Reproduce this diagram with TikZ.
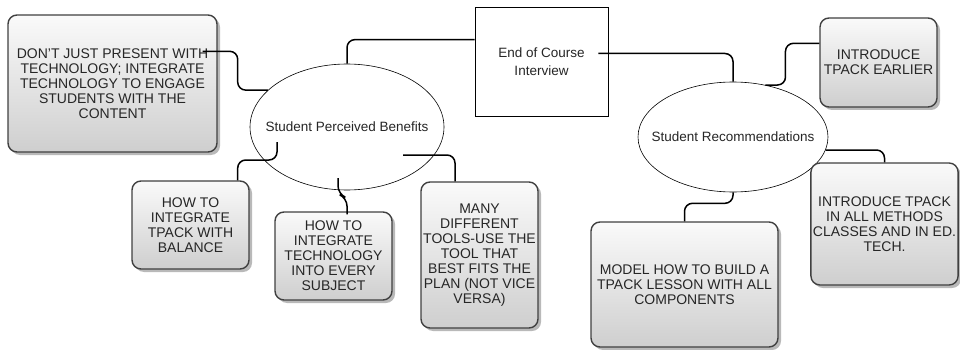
\documentclass[tikz,border=0pt]{standalone}
\usepackage{fontspec}
\setmainfont{Liberation Sans}
\usetikzlibrary{calc, shadows, shapes.geometric}
\tikzset{
  idea/.style={draw=black!75, line width=1.4pt, rounded corners=9pt,
    top color=gray!4, bottom color=gray!38,
    drop shadow={shadow xshift=3pt, shadow yshift=-3pt, fill=black!50, opacity=0.55},
    align=center, text=black!85, inner sep=2pt, font=\fontsize{14}{15}\selectfont},
  theme/.style={draw, ellipse, fill=white, line width=0.6pt, inner sep=0pt,
    label={[font=\fontsize{13.5}{15}\selectfont, text=black!85]center:#1}},
  source/.style={draw, rectangle, fill=white, line width=0.8pt, align=center,
    text=black!85, font=\fontsize{13.5}{18}\selectfont},
  link/.style={line width=1.5pt, rounded corners=8pt}
}

\begin{document}
\begin{tikzpicture}[x=1pt, y=-1pt]
\useasboundingbox (0,0) rectangle (960,350);
\node[source, minimum width=133pt, minimum height=109pt] (interview) at (541.5,61.5) {End of Course\\Interview};
\node[theme={Student Perceived Benefits}, minimum width=194pt, minimum height=126pt] (benefits) at (347,127) {};
\node[theme={Student Recommendations}, minimum width=190pt, minimum height=110pt] (recs) at (733,137) {};
\node[idea, minimum width=209pt, minimum height=137pt] (dont) at (112.5,83.5) {DON'T JUST PRESENT WITH\\TECHNOLOGY; INTEGRATE\\TECHNOLOGY TO ENGAGE\\STUDENTS WITH THE\\CONTENT};
\node[idea, minimum width=117pt, minimum height=88pt] (balance) at (190.5,225) {HOW TO\\INTEGRATE\\TPACK WITH\\BALANCE};
\node[idea, minimum width=117pt, minimum height=88pt] (subject) at (333.5,256) {HOW TO\\INTEGRATE\\TECHNOLOGY\\INTO EVERY\\SUBJECT};
\node[idea, minimum width=117pt, minimum height=146pt] (many) at (479.5,255) {MANY\\DIFFERENT\\TOOLS-USE THE\\TOOL THAT\\BEST FITS THE\\PLAN (NOT VICE\\VERSA)};
\node[idea, minimum width=187pt, minimum height=125pt] (model) at (684.5,284.5) {MODEL HOW TO BUILD A\\TPACK LESSON WITH ALL\\COMPONENTS};
\node[idea, minimum width=117pt, minimum height=89pt] (early) at (878.5,62.5) {INTRODUCE\\TPACK EARLIER};
\node[idea, minimum width=145pt, minimum height=122pt] (methods) at (884.5,224) {INTRODUCE TPACK\\IN ALL METHODS\\CLASSES AND IN ED.\\TECH.};
\draw[link] ($(interview.north west)+(0,33)$) -| (benefits.north);
\draw[link] ($(interview.east)+(-10,-8)$) -| (recs.north);
\draw[link] (recs.58) -- ++(20,0) |- ($(early.north west)+(0,26)$);
\draw[link] (recs.-8) -| (methods.north);
\draw[link] (recs.south) -- ++(0,11) -| (model.north);
\draw[link] ($(dont.north east)+(-15,37)$) -- ++(35,0) |- (benefits.155);
\draw[link] ($(benefits.center)+(-70,15)$) -- ++(0,18) -| ($(balance.north east)+(-12,0)$);
\draw[link] ($(benefits.center)+(-9,51)$) -- ++(0,16) -- ++(9,4) -- ($(subject.north)+(13.5,3)$);
\draw[link] ($(benefits.center)+(56,28)$) -| ($(many.north)+(-24.5,0)$);
\end{tikzpicture}
\end{document}
